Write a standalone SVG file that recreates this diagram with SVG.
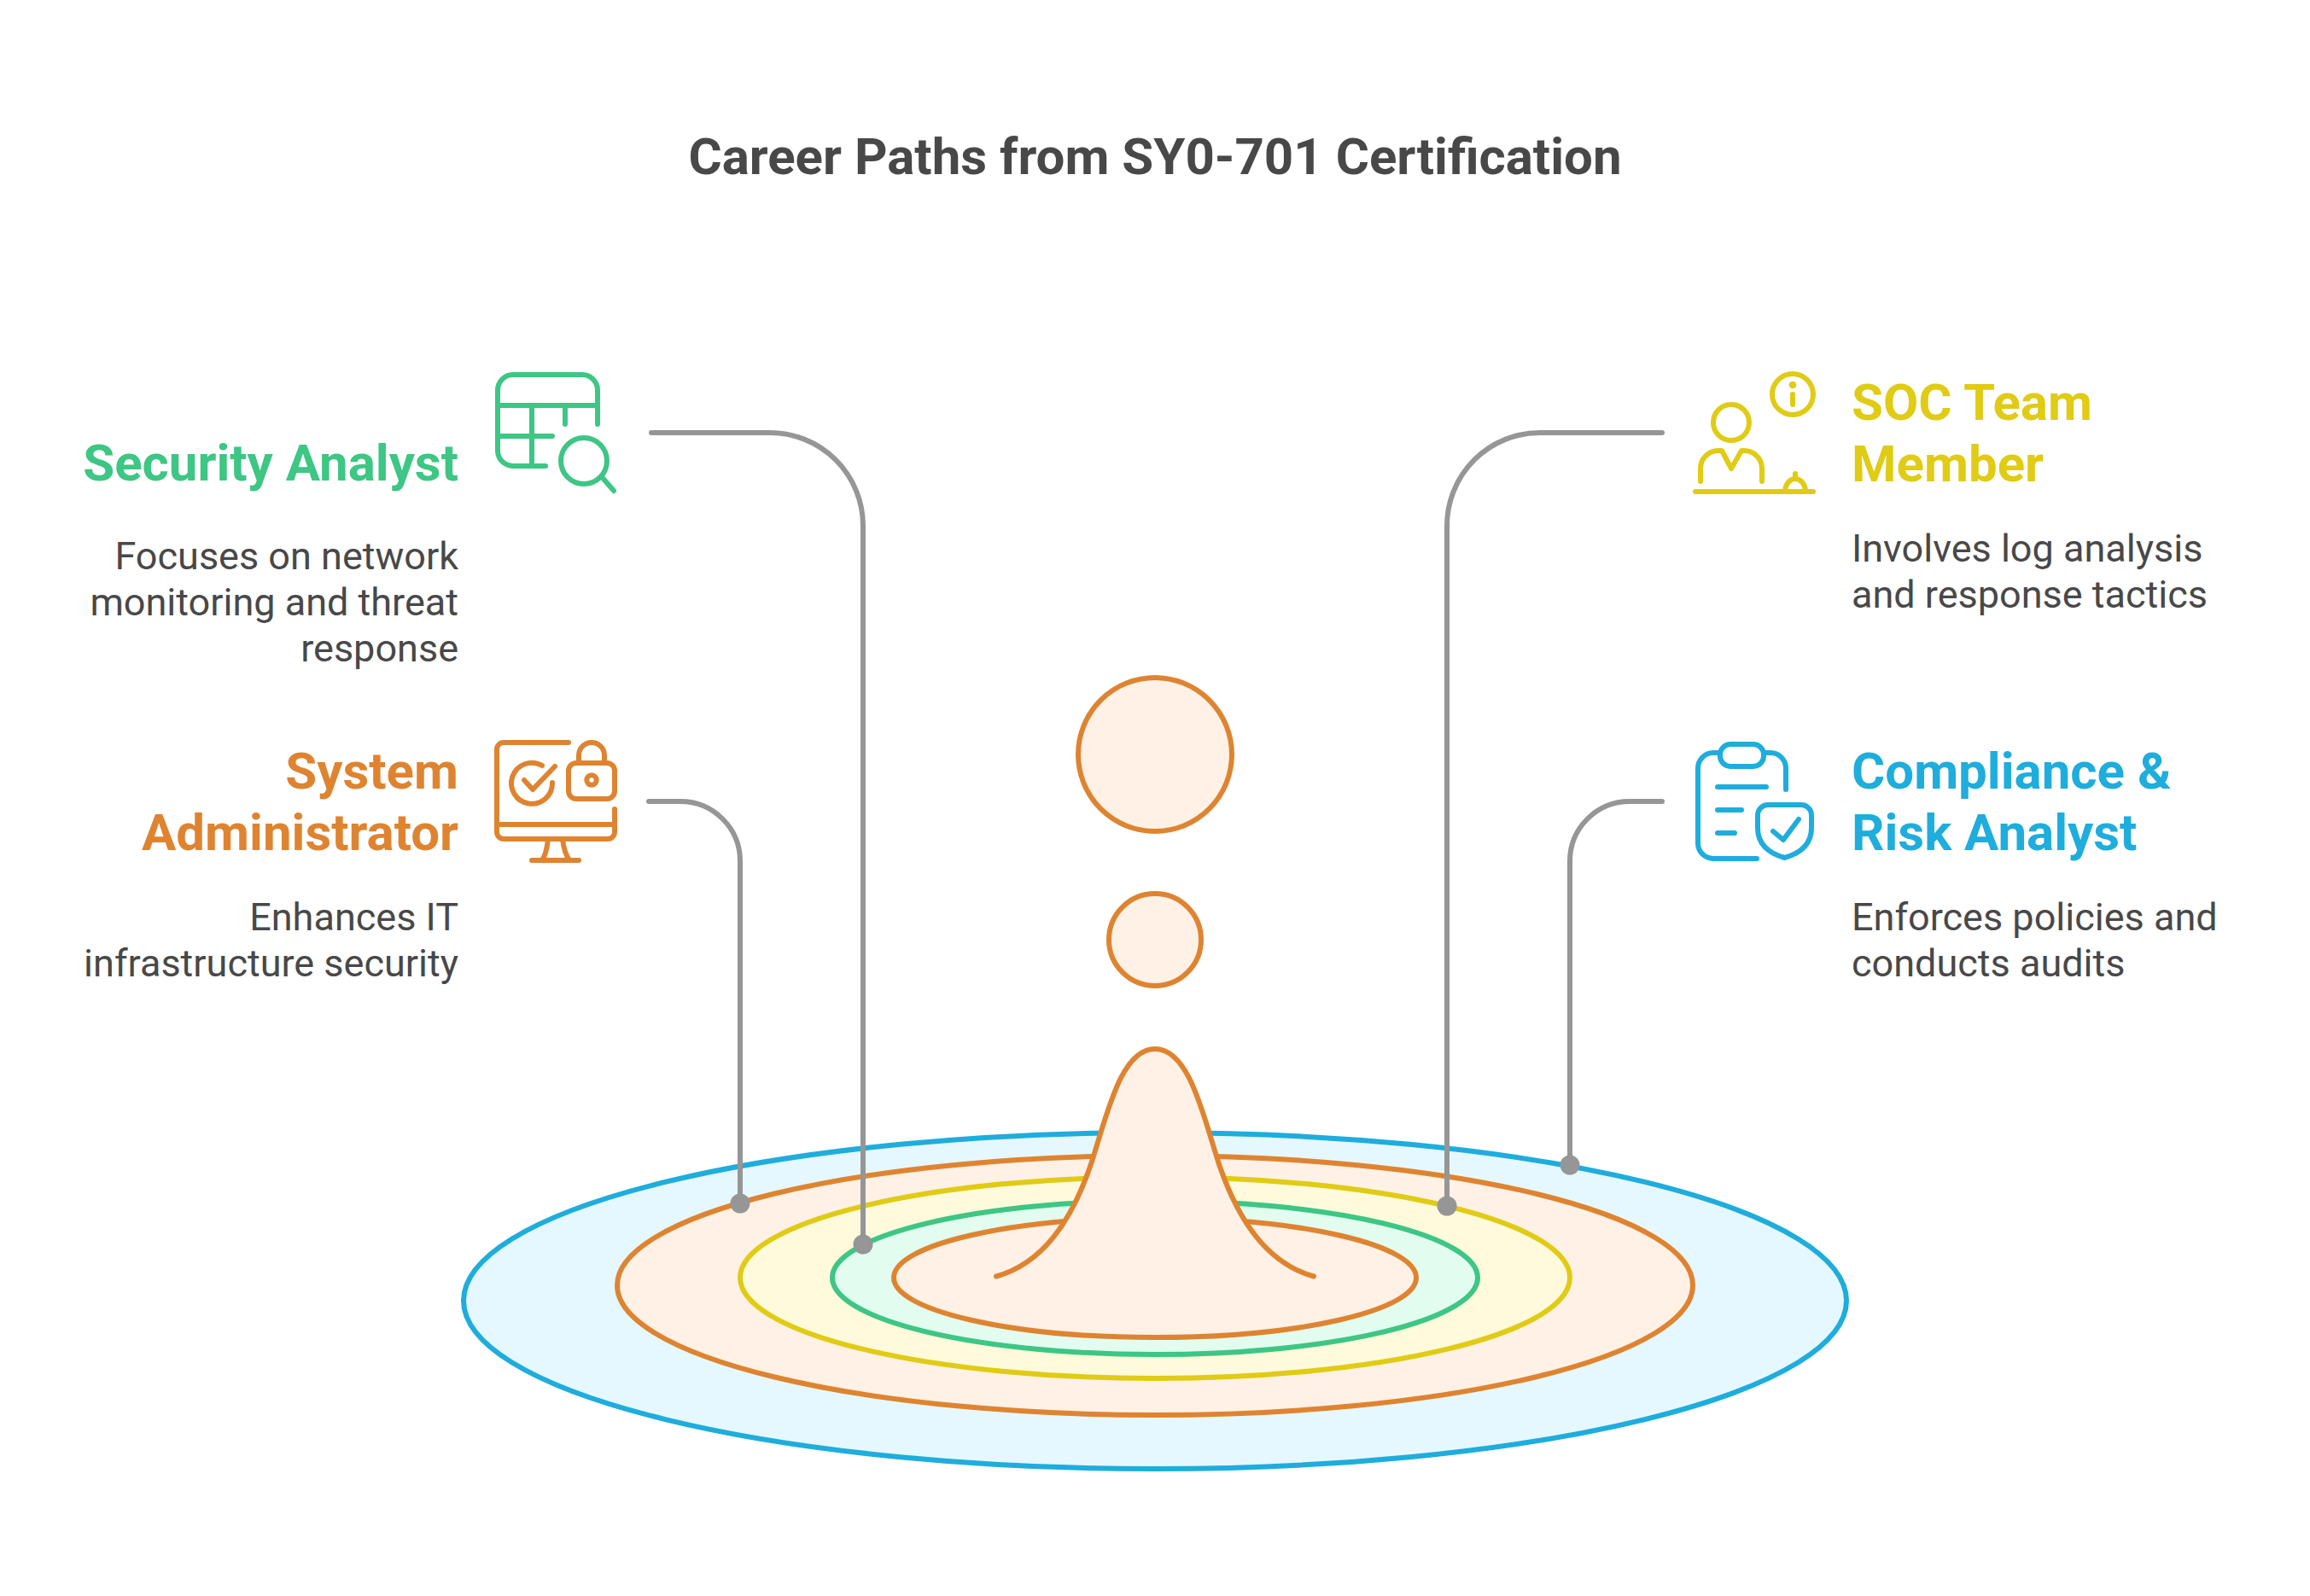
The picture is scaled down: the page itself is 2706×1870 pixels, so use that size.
<svg xmlns="http://www.w3.org/2000/svg" width="2706" height="1870" viewBox="0 0 2706 1870">
<style>
text{font-family:Roboto,"Liberation Sans",sans-serif}
.t{font-size:60px;font-weight:700;fill:#484848}
.h{font-size:60px;font-weight:700}
.b{font-size:45px;font-weight:400;fill:#484848}
.e{text-anchor:end}
.i{fill:none;stroke-width:6;stroke-linecap:round;stroke-linejoin:round}
.s{stroke-width:6;stroke-linecap:round;stroke-linejoin:round}
.c{fill:none;stroke:#969696;stroke-width:6;stroke-linecap:round}
.d{fill:#969696}
.gr{stroke:#3DC684}.or{stroke:#DE8431}.ye{stroke:#E0CB15}.bl{stroke:#1EADDC}
.fye{fill:#E0CB15}
</style>
<rect width="2706" height="1870" fill="#fff"/>
<text class="t" x="1353" y="204" text-anchor="middle">Career Paths from SY0-701 Certification</text>
<g id="ripples">
<ellipse class="s bl" cx="1353" cy="1524" rx="810" ry="197" fill="#E6F8FF"/>
<ellipse class="s or" cx="1353" cy="1506" rx="630" ry="152" fill="#FFF1E5"/>
<ellipse class="s ye" cx="1353" cy="1497" rx="486" ry="118" fill="#FFFADB"/>
<ellipse class="s gr" cx="1353" cy="1497" rx="378" ry="90" fill="#E2FDEF"/>
<ellipse class="s or" cx="1353" cy="1497" rx="306" ry="70" fill="#FFF1E5"/>
</g>
<g id="connectors">
<path class="c" d="M763 507H902a109 109 0 0 1 109 109V1458"/>
<path class="c" d="M1947 507H1804a109 109 0 0 0 -109 109V1413"/>
<path class="c" d="M760 939H797a70 70 0 0 1 70 70V1410"/>
<path class="c" d="M1947 939H1909a70 70 0 0 0 -70 70V1365"/>
<circle class="d" cx="1011" cy="1458" r="11.500"/>
<circle class="d" cx="1695" cy="1413" r="11.500"/>
<circle class="d" cx="867" cy="1410" r="11.500"/>
<circle class="d" cx="1839" cy="1365" r="11.500"/>
</g>
<g id="droplet">
<path class="s or" fill="#FFF1E5" d="M1167 1495.500C1222 1480 1255 1430 1277 1367C1296 1310 1312 1229 1353 1229C1394 1229 1410 1310 1429 1367C1451 1430 1484 1480 1539 1495.500"/>
<circle class="s or" cx="1353" cy="1101" r="54" fill="#FFF1E5"/>
<circle class="s or" cx="1353" cy="884" r="90" fill="#FFF1E5"/>
</g>
<g id="security-analyst">
<text class="h e" x="537" y="563" fill="#3DC684">Security Analyst</text>
<text class="b e" x="537" y="666.500">Focuses on network</text>
<text class="b e" x="537" y="720.500">monitoring and threat</text>
<text class="b e" x="537" y="774.500">response</text>
<g class="i gr">
<path d="M639 546H601a18 18 0 0 1 -18 -18V457a18 18 0 0 1 18 -18H682a18 18 0 0 1 18 18V497M583 475H700M623 475V546M662 475V497M583 511H647"/>
<circle cx="684" cy="540" r="27"/>
<path d="M706 560L719 575"/>
</g>
</g>
<g id="system-administrator">
<text class="h e" x="537" y="924" fill="#DE8431">System</text>
<text class="h e" x="537" y="996" fill="#DE8431">Administrator</text>
<text class="b e" x="537" y="1090">Enhances IT</text>
<text class="b e" x="537" y="1144">infrastructure security</text>
<g class="i or">
<path d="M666 870H590a8 8 0 0 0 -8 8V975a8 8 0 0 0 8 8H712a8 8 0 0 0 8 -8V948M582 966H720"/>
<path d="M642 983C641 993 639 1002 635 1008M659 983C660 993 663 1002 667 1008M623 1008H678"/>
<path d="M647 917A24 24 0 1 1 635 897M614 914L624 925L650 898"/>
<rect x="666" y="894" width="54" height="42" rx="9"/>
<path d="M678 894V885a15 15 0 0 1 30 0V894"/>
<circle cx="693" cy="914" r="5.700"/>
</g>
</g>
<g id="soc-team-member">
<text class="h" x="2169" y="492" fill="#E0CB15">SOC Team</text>
<text class="h" x="2169" y="564" fill="#E0CB15">Member</text>
<text class="b" x="2169" y="658">Involves log analysis</text>
<text class="b" x="2169" y="712">and response tactics</text>
<g class="i ye">
<circle cx="2100" cy="462" r="24"/>
<path d="M2100 462V474"/>
<circle cx="2028" cy="495" r="21"/>
<path d="M1992 564V549a21 21 0 0 1 21 -21H2017L2028 549L2040 528H2043a21 21 0 0 1 21 21V564"/>
<path d="M1986 576H2124M2091 576a12 15 0 0 1 24 0M2103 561V555"/>
</g>
<circle class="fye" cx="2100" cy="451" r="4.300"/>
</g>
<g id="compliance-risk-analyst">
<text class="h" x="2169" y="924" fill="#1EADDC">Compliance &amp;</text>
<text class="h" x="2169" y="996" fill="#1EADDC">Risk Analyst</text>
<text class="b" x="2169" y="1090">Enforces policies and</text>
<text class="b" x="2169" y="1144">conducts audits</text>
<g class="i bl">
<path d="M2058 1006H2007a18 18 0 0 1 -18 -18V900a18 18 0 0 1 18 -18H2015M2066 882H2074a18 18 0 0 1 18 18V925"/>
<rect x="2015" y="872" width="51" height="26" rx="12"/>
<path d="M2012 922H2069M2012 949H2040M2012 976H2032"/>
<path d="M2071 943H2110a12 12 0 0 1 12 12V970C2122 990 2108 1000 2090.500 1005C2073 1000 2059 990 2059 970V955a12 12 0 0 1 12 -12Z"/>
<path d="M2077 974L2089 984L2107 960"/>
</g>
</g>
</svg>
